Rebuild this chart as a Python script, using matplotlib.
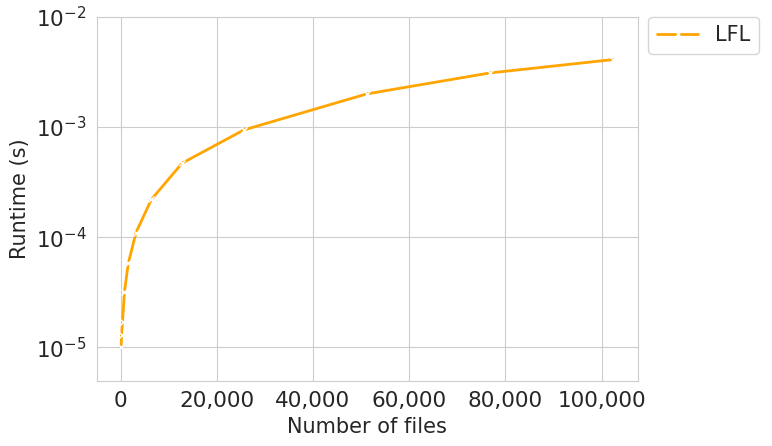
import matplotlib
matplotlib.use("Agg")
import matplotlib.pyplot as plt
import seaborn as sns

sns.set_style("whitegrid")
plt.rcParams['font.family'] = ['DejaVu Sans']

# 数据：文件数量和运行时间
num_files = [100, 200, 400, 800, 1600, 3200, 6400, 12800, 25600, 51200, 76800, 102400]
runtime_lfl = [1.0e-5, 1.3e-5, 1.7e-5, 3.2e-5, 5.8e-5, 1.1e-4, 2.2e-4, 4.7e-4,
               9.4e-4, 2.0e-3, 3.1e-3, 4.1e-3]

fig, ax = plt.subplots(figsize=(7.72, 4.46), dpi=100)

ax.plot(num_files, runtime_lfl, color='orange', linewidth=2, marker='x',
        markersize=5, markeredgecolor='white', markeredgewidth=1, label='LFL')

ax.set_yscale('log')
ax.set_ylim(10 ** -5.31, 1e-2)
ax.set_xticks([0, 20000, 40000, 60000, 80000, 100000])
ax.xaxis.set_major_formatter(matplotlib.ticker.StrMethodFormatter('{x:,.0f}'))
ax.tick_params(labelsize=15.5)

ax.set_xlabel('Number of files', fontsize=15)
ax.set_ylabel('Runtime (s)', fontsize=15)

ax.legend(loc='upper left', bbox_to_anchor=(1.02, 1.0), borderaxespad=0, fontsize=15)

plt.subplots_adjust(left=0.125, right=0.826, top=0.962, bottom=0.145)
plt.savefig('out.png', dpi=100)
